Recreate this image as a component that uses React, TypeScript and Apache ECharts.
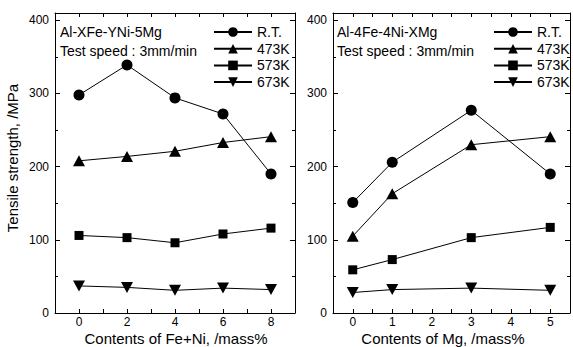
import React, { useEffect, useRef } from 'react';
import * as echarts from 'echarts';

const seriesNames = ['R.T.', '473K', '573K', '673K'];

const feNiX = [0, 2, 4, 6, 8];
const feNiRT = [298, 339, 294, 272, 190];
const feNi473 = [208, 214, 221, 233, 241];
const feNi573 = [106, 103, 96, 108, 116];
const feNi673 = [37, 35, 31, 34, 32];

const mgX = [0, 1, 3, 5];
const mgRT = [151, 206, 277, 190];
const mg473 = [105, 163, 230, 241];
const mg573 = [59, 73, 103, 117];
const mg673 = [28, 32, 34, 31];

const feNiTickLabels = [0, 2, 4, 6, 8];
const mgTickLabels = [0, 1, 2, 3, 4, 5];
const yTickLabels = [0, 100, 200, 300, 400];

const FONT = '"Liberation Sans", Arial, sans-serif';
const DOWN_TRI = 'path://M0,0L20,0L10,18Z';
const symbols = ['circle', 'triangle', 'rect', DOWN_TRI];
const symbolSizes: any[] = [11, [12, 11], 9, [12, 11]];

function pairs(xs: number[], ys: number[]) {
  return xs.map((x, i) => [x, ys[i]]);
}

export default function App() {
  const ref = useRef<HTMLDivElement>(null);
  useEffect(() => {
    if (!ref.current) return;
    const chart = echarts.init(ref.current, undefined, { renderer: 'svg' });
    const axisLine = { show: true, onZero: false, lineStyle: { color: '#000', width: 1 } };
    const tick = { show: true, inside: true, length: 5, lineStyle: { color: '#000', width: 1 } };
    const minor = { show: true, splitNumber: 2, length: 3, lineStyle: { color: '#000', width: 1 } };
    const lbl = { color: '#000', fontSize: 12, fontFamily: FONT };

    const yAx = (gridIndex: number, position: string, showLabel: boolean) => ({
      type: 'value',
      gridIndex,
      position,
      min: 0,
      max: 410,
      interval: 100,
      axisLine,
      axisTick: tick,
      minorTick: minor,
      splitLine: { show: false },
      axisLabel: {
        show: showLabel,
        ...lbl,
        margin: 6,
        showMaxLabel: false,
        formatter: (v: number) => (yTickLabels.includes(v) ? String(v) : ''),
      },
    });

    const xAx = (gridIndex: number, position: string, showLabel: boolean, min: number, max: number, interval: number, labels: number[]) => ({
      type: 'value',
      gridIndex,
      position,
      min,
      max,
      interval,
      axisLine,
      axisTick: { ...tick, length: 4 },
      splitLine: { show: false },
      axisLabel: {
        show: showLabel,
        ...lbl,
        margin: 3,
        lineHeight: 12,
        showMinLabel: true,
        showMaxLabel: true,
        formatter: (v: number) => (labels.some((l) => Math.abs(l - v) < 1e-9) ? String(v) : ''),
      },
    });

    const leftData = [feNiRT, feNi473, feNi573, feNi673];
    const rightData = [mgRT, mg473, mg573, mg673];
    const series: any[] = [];
    seriesNames.forEach((name, i) => {
      series.push({
        name,
        type: 'line',
        xAxisIndex: 0,
        yAxisIndex: 0,
        data: pairs(feNiX, leftData[i]),
        symbol: symbols[i],
        symbolSize: symbolSizes[i],
        itemStyle: { color: '#000' },
        lineStyle: { color: '#000', width: 1 },
      });
      series.push({
        name,
        type: 'line',
        xAxisIndex: 2,
        yAxisIndex: 2,
        data: pairs(mgX, rightData[i]),
        symbol: symbols[i],
        symbolSize: symbolSizes[i],
        itemStyle: { color: '#000' },
        lineStyle: { color: '#000', width: 1 },
      });
    });

    const legendBase = {
      orient: 'vertical',
      top: 20,
      itemWidth: 38,
      itemHeight: 12,
      itemGap: 2.7,
      textStyle: { fontSize: 14, fontFamily: FONT, color: '#000' },
      data: seriesNames,
    };

    const txt = (x: number, y: number, text: string, size: number, extra: any = {}) => ({
      type: 'text',
      x,
      y,
      style: {
        text,
        fill: '#000',
        fontSize: size,
        fontFamily: FONT,
        lineHeight: size,
        align: extra.align || 'left',
        verticalAlign: 'middle',
      },
    });

    chart.setOption({
      animation: false,
      backgroundColor: '#fff',
      grid: [
        { left: 55, top: 13, width: 240, height: 300 },
        { left: 333, top: 13, width: 240, height: 300 },
      ],
      xAxis: [
        xAx(0, 'bottom', true, -1, 9, 1, feNiTickLabels),
        xAx(0, 'top', false, -1, 9, 1, feNiTickLabels),
        xAx(1, 'bottom', true, -0.5, 5.5, 0.5, mgTickLabels),
        xAx(1, 'top', false, -0.5, 5.5, 0.5, mgTickLabels),
      ],
      yAxis: [
        yAx(0, 'left', true),
        yAx(0, 'right', false),
        yAx(1, 'left', true),
        yAx(1, 'right', false),
      ],
      legend: [
        { ...legendBase, left: 208 },
        { ...legendBase, left: 488 },
      ],
      graphic: [
        txt(60, 32, 'Al-XFe-YNi-5Mg', 14),
        txt(60, 51, 'Test speed : 3mm/min', 14),
        txt(337, 32, 'Al-4Fe-4Ni-XMg', 14),
        txt(337, 51, 'Test speed : 3mm/min', 14),
        txt(176, 338.5, 'Contents of Fe+Ni, /mass%', 15, { align: 'center' }),
        txt(443, 338.5, 'Contents of Mg, /mass%', 15, { align: 'center' }),
        {
          type: 'text',
          x: 12,
          y: 158,
          rotation: Math.PI / 2,
          style: {
            text: 'Tensile strength, /MPa',
            fill: '#000',
            fontSize: 15,
            fontFamily: FONT,
            align: 'center',
            verticalAlign: 'middle',
          },
        },
      ],
      series,
    });
    return () => chart.dispose();
  }, []);
  return (
    <div
      ref={ref}
      style={{ position: 'fixed', left: 0, top: 0, width: 573, height: 347, background: '#fff' }}
    />
  );
}
